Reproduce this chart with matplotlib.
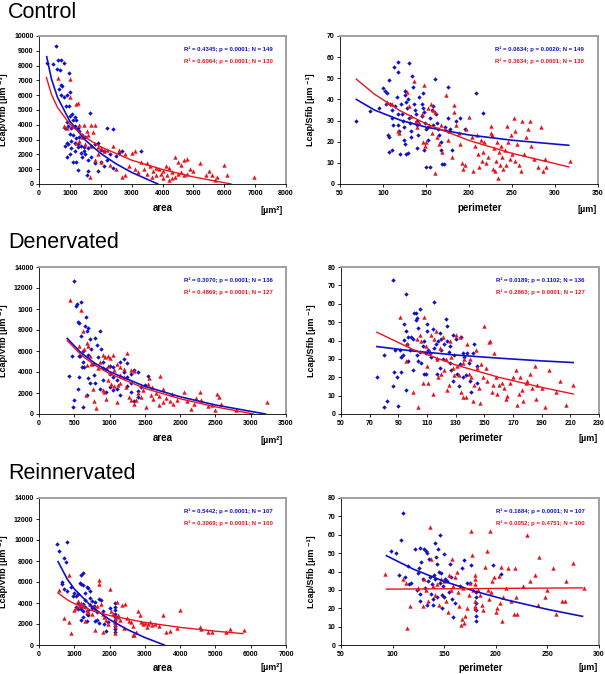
import matplotlib
matplotlib.use("Agg")
import matplotlib.pyplot as plt
import numpy as np

plt.rcParams['font.family'] = ['Liberation Sans', 'DejaVu Sans']

BLUE = '#1010c8'
RED = '#e8141e'

# ---------------- Control ----------------
ctrl_area_blue_x = [270, 560, 450, 620, 720, 820, 580, 680, 980, 720, 760, 650, 720, 800, 900, 960, 1020, 880,
                    1060, 1000, 1150, 1200, 1100, 900, 950, 850, 1050, 1150, 1250, 1300, 1000, 1100, 1200, 1300,
                    1400, 1500, 900, 950, 1050, 1150, 1250, 1350, 1450, 1600, 1700, 1800, 1650, 1900, 2000, 2200,
                    2400, 2100, 2300, 2500, 2700, 3300, 900, 1000, 1100, 1200, 1250, 1400, 1500, 1600, 1700, 1800,
                    2000, 2100, 2200, 1550, 1600, 1900, 2400, 2600, 1350, 1450, 1050, 1150, 850, 1250]
ctrl_area_blue_y = [8150, 9300, 8100, 8350, 8400, 8150, 7800, 7700, 7500, 6700, 6600, 6400, 6000, 5900, 6000, 5300,
                    6200, 5300, 4700, 4600, 4500, 4300, 4300, 4200, 3900, 3800, 3800, 3900, 3800, 3600, 3400, 3300,
                    3100, 3200, 3300, 3200, 2800, 2700, 2900, 2800, 2700, 2600, 2500, 2400, 2600, 2700, 4800, 2800,
                    2300, 3800, 3700, 2200, 2000, 1900, 2200, 2200, 1800, 2000, 1500, 1500, 950, 1800, 2000, 1600,
                    1800, 1400, 1500, 1200, 1600, 600, 900, 900, 1100, 2100, 2100, 2200, 2400, 2200, 2600, 2500]
ctrl_area_red_x = [600, 1000, 1000, 1250, 1200, 800, 900, 1100, 1300, 1450, 1700, 1800, 1750, 1600, 1400, 1300,
                   1500, 1700, 1900, 2000, 2100, 1900, 1800, 2000, 2200, 2400, 2600, 2800, 3000, 3100, 3300, 3500,
                   2900, 3100, 2800, 2700, 3200, 3400, 3500, 3600, 3700, 3800, 3900, 4000, 4100, 4200, 4300, 4400,
                   4500, 4600, 4700, 4800, 4900, 4150, 4200, 4300, 4000, 3950, 4500, 4600, 4700, 4800, 5000, 5200,
                   5400, 5500, 5600, 5700, 5750, 6000, 6100, 6950, 4400, 3800, 3650, 1650, 2300, 2500, 1550, 1200]
ctrl_area_red_y = [7150, 7100, 5900, 5500, 5400, 3900, 3800, 3900, 4000, 4000, 4000, 4000, 3500, 3300, 3200, 2900,
                   2700, 2600, 2500, 2400, 2200, 2000, 1600, 1500, 2300, 2600, 2300, 2000, 2100, 2200, 1500, 1400,
                   1200, 1000, 600, 500, 800, 1000, 700, 1200, 900, 1100, 1000, 900, 1200, 1100, 800, 1800, 1500,
                   1300, 1600, 1700, 1000, 600, 300, 400, 400, 700, 700, 800, 600, 700, 900, 1400, 600, 900, 600,
                   300, 500, 1300, 600, 500, 500, 600, 500, 500, 1300, 1000, 3600, 2800]
ctrl_area_fit_blue_x = [250, 400, 600, 1000, 1500, 2000, 2500, 3000, 3850]
ctrl_area_fit_blue_y = [8600, 7120, 5850, 4240, 2965, 2060, 1360, 785, 0]
ctrl_area_fit_red_x = [240, 400, 600, 1000, 1500, 2000, 3000, 4000, 5000, 6220]
ctrl_area_fit_red_y = [7200, 6070, 5170, 4040, 3150, 2510, 1610, 980, 480, 0]

ctrl_per_blue_x = [69, 85, 95, 100, 102, 105, 107, 108, 110, 111, 112, 106, 107, 107, 110, 113, 117, 117, 116, 118,
                   119, 120, 121, 122, 123, 124, 125, 126, 127, 128, 129, 130, 130, 131, 132, 133, 127, 129, 125,
                   124, 134, 135, 136, 137, 138, 139, 140, 141, 140, 142, 145, 146, 148, 149, 150, 147, 148, 150,
                   155, 152, 155, 157, 158, 160, 162, 164, 165, 167, 168, 169, 171, 172, 175, 176, 178, 180, 185,
                   190, 195, 208, 216, 145, 152, 118, 114, 103, 158, 163]
ctrl_per_blue_y = [30, 34.5, 36, 45.5, 44, 43, 49, 38, 35, 31, 28, 23, 22, 15, 16, 55.5, 57.5, 53, 41, 28, 25, 14,
                   38, 33, 30, 27, 44, 42, 39, 36, 40, 57, 31, 29, 25, 22, 14, 14.5, 19, 21, 51, 46, 38, 35, 33,
                   30, 28, 23, 17, 41, 38, 36, 34, 29, 26, 43, 16, 8, 8, 21, 31, 35, 28, 49.5, 33, 26, 23, 20, 16,
                   9.5, 9.5, 27, 46, 31, 26, 16, 30, 31, 26, 43, 33.5, 32, 27, 33, 37, 38, 37, 29]
ctrl_per_red_x = [105, 110, 117, 119, 128, 130, 132, 136, 138, 140, 142, 145, 147, 148, 149, 150, 152, 154, 156,
                  157, 158, 160, 161, 163, 165, 167, 169, 172, 173, 175, 177, 180, 182, 183, 185, 188, 190, 192,
                  193, 195, 197, 200, 203, 205, 207, 209, 210, 212, 214, 216, 218, 220, 222, 225, 226, 228, 229,
                  230, 231, 232, 234, 235, 236, 237, 238, 240, 242, 244, 245, 248, 250, 252, 253, 254, 256, 258,
                  260, 262, 264, 266, 269, 271, 272, 276, 280, 284, 286, 288, 290, 317, 249, 243, 227, 215]
ctrl_per_red_y = [39, 38, 25, 24, 43.5, 37, 32, 48.5, 30, 27, 29, 33, 20, 47, 18, 20, 36, 28, 38, 24, 35, 5, 34,
                  22, 19, 28, 15, 26, 42, 21, 25, 13, 37.5, 34, 28, 24, 19, 10, 7, 9, 26, 31.5, 22, 6, 18, 23, 14,
                  8, 21, 15, 20, 10, 13, 24, 27.5, 7, 17, 6, 11, 20, 3, 15, 9, 18, 13, 7, 16, 27.5, 20, 12, 14, 31,
                  25, 11, 19, 9, 6, 30, 14, 22, 26, 30, 18, 12, 8, 27, 6, 12, 8, 11, 23, 9, 23, 11]
ctrl_per_fit_blue_x = [69, 90, 120, 150, 200, 250, 316]
ctrl_per_fit_blue_y = [40, 35.0, 30.2, 26.9, 23.2, 20.7, 18.3]
ctrl_per_fit_red_x = [69, 90, 120, 150, 200, 250, 316]
ctrl_per_fit_red_y = [49.6, 42.5, 34.6, 28.5, 20.6, 14.5, 8.1]

# ---------------- Denervated ----------------
den_area_blue_x = [420, 470, 490, 500, 480, 520, 540, 560, 550, 560, 580, 560, 550, 600, 600, 620, 620, 640, 610,
                   660, 650, 680, 700, 720, 700, 700, 720, 740, 760, 800, 820, 860, 880, 900, 840, 780, 800, 860,
                   900, 950, 1000, 1050, 1000, 1050, 1100, 1150, 1200, 1250, 1300, 1350, 1400, 1450, 1500, 1550,
                   1200, 1250, 1050, 1100, 1150, 1300, 1400, 1350, 1000, 900, 950, 620, 680, 1250, 1300, 1400]
den_area_blue_y = [3600, 5500, 12700, 1300, 700, 10300, 10500, 8700, 8750, 5500, 5500, 3500, 2400, 10700, 7400,
                   6000, 5000, 4500, 4500, 9200, 8400, 7900, 8200, 7100, 5600, 3400, 3000, 6200, 4800, 7200, 6600,
                   7900, 6200, 5000, 5400, 3700, 3000, 2400, 4400, 4300, 4600, 4500, 3800, 3500, 3200, 5000, 4000,
                   3500, 3000, 4200, 4000, 2600, 2800, 3600, 5200, 4900, 2300, 2400, 1800, 2100, 1600, 1200, 2600,
                   3200, 2100, 700, 1800, 2700, 3800, 2200]
den_area_red_x = [440, 600, 630, 560, 640, 680, 700, 720, 680, 740, 660, 780, 810, 760, 860, 900, 940, 980, 1000,
                  1050, 1100, 1150, 1200, 1250, 1300, 1350, 900, 920, 950, 980, 1020, 1060, 1100, 1120, 1150, 1200,
                  1230, 1280, 1310, 1350, 1380, 1400, 1450, 1480, 1520, 1540, 1560, 1600, 1620, 1660, 1700, 1720,
                  1750, 1760, 1800, 1850, 1880, 1900, 1950, 2050, 2100, 2160, 2200, 2230, 2280, 2300, 2400, 2450,
                  2500, 2520, 2550, 2580, 2790, 3230, 1000, 1060, 980, 840, 1580, 1700, 1150]
den_area_red_y = [10900, 9900, 7900, 6500, 6200, 6800, 6500, 5500, 4700, 4800, 1800, 1200, 600, 2400, 5000, 5600,
                  5400, 5500, 5300, 5600, 4800, 4500, 4300, 5800, 4200, 4100, 2300, 2100, 1400, 3200, 2900, 2700,
                  1100, 2800, 3000, 3500, 2600, 1600, 1300, 1000, 1300, 2000, 1600, 2300, 700, 2900, 3400, 2600,
                  1400, 2000, 1700, 3600, 2400, 1100, 1500, 1200, 1900, 1000, 1300, 2100, 1200, 500, 1000, 1500,
                  2100, 1300, 800, 900, 400, 1900, 1600, 1000, 400, 1100, 3900, 4200, 4600, 4400, 1800, 900, 3700]
den_area_fit_blue_x = [400, 600, 800, 1000, 1500, 2000, 2500, 3210]
den_area_fit_blue_y = [7200, 5800, 4800, 4030, 2630, 1640, 860, 0]
den_area_fit_red_x = [400, 600, 800, 1000, 1500, 2000, 2500, 3040]
den_area_fit_red_y = [7000, 5600, 4610, 3840, 2440, 1450, 680, 0]

den_per_blue_x = [75, 80, 80, 82, 86, 86, 87, 88, 89, 90, 91, 92, 93, 94, 94, 95, 95, 95, 96, 97, 98, 99, 100, 100,
                  101, 102, 102, 103, 103, 104, 104, 105, 105, 106, 107, 108, 108, 109, 110, 110, 111, 112, 113,
                  114, 115, 115, 116, 117, 117, 118, 119, 120, 120, 121, 122, 123, 124, 124, 125, 126, 126, 127,
                  128, 128, 129, 130, 131, 132, 133, 134, 135, 135, 136, 137, 138, 139, 140, 141, 142, 143, 145,
                  145, 109, 119, 97, 92]
den_per_blue_y = [20, 4, 32, 7, 73, 15, 23, 35, 20, 4.5, 35, 31, 32, 40.5, 49, 45, 13, 65.5, 38, 29, 35, 42, 41, 24,
                  55, 55, 51, 52, 32, 47, 29, 57, 34, 28, 37, 40, 22, 33, 49, 45, 35, 33, 31, 46, 61, 36, 38, 30,
                  22, 40, 25, 41, 35, 30, 38, 51.5, 48, 40, 34, 37, 28, 24, 43, 18, 32, 41, 22, 15, 27, 42, 33, 20,
                  31, 21, 33, 28, 18, 12, 33, 38, 26, 17, 22, 44, 42, 23]
den_per_red_x = [91, 95, 96, 100, 103, 104, 105, 106, 107, 108, 109, 110, 111, 112, 113, 114, 115, 116, 117, 118,
                 119, 120, 121, 122, 123, 124, 125, 126, 127, 128, 129, 130, 131, 132, 133, 134, 135, 136, 137,
                 138, 139, 140, 141, 142, 143, 144, 145, 146, 147, 148, 149, 150, 151, 152, 153, 154, 155, 156,
                 157, 158, 159, 160, 162, 164, 166, 168, 170, 172, 173, 175, 176, 177, 179, 180, 182, 183, 185,
                 186, 187, 190, 192, 195, 200, 203, 207, 212, 174, 165, 135]
den_per_red_y = [53, 29, 38, 12, 41, 4, 43, 40, 17, 53, 37, 26, 17, 34, 43, 11, 41, 45, 30, 20, 36, 22, 42, 24, 30,
                 13, 16, 40, 31, 25, 21, 43, 26, 21, 42, 12, 28, 30, 9, 38, 22, 30, 20, 7, 16, 35, 25, 14, 6, 27,
                 20, 48, 25, 18, 39, 40, 12, 16, 33, 20, 11, 16, 17, 14, 10, 17, 20, 24, 5, 20, 13, 7, 17, 18, 22,
                 14, 26, 8, 16, 14, 4, 24, 12, 18, 5, 16, 11, 8, 9]
den_per_fit_blue_x = [75, 100, 130, 160, 190, 212]
den_per_fit_blue_y = [36.7, 34.3, 32.1, 30.4, 28.9, 28.0]
den_per_fit_red_x = [75, 100, 130, 160, 190, 212]
den_per_fit_red_y = [44.5, 35.2, 26.7, 20.0, 14.5, 10.9]

# ---------------- Reinnervated ----------------
rein_area_blue_x = [520, 560, 700, 800, 760, 650, 640, 720, 800, 900, 950, 1000, 1050, 1100, 1100, 1150, 1200,
                    1250, 1200, 1250, 1300, 1350, 1400, 1450, 1150, 1200, 1250, 1300, 1350, 1400, 1450, 1500, 1550,
                    1600, 1650, 1700, 1750, 1800, 1600, 1650, 1700, 1850, 1900, 1950, 2000, 1200, 1250, 1350,
                    1100, 1050, 2150, 2150, 2150, 2150, 2150, 2150, 2150, 2150, 2150, 2150, 1500, 1400, 1300,
                    1250, 1450]
rein_area_blue_y = [9600, 9000, 8300, 9800, 7900, 6000, 5800, 5300, 5100, 5500, 4700, 5000, 4700, 4900, 4000,
                    5900, 6700, 6900, 5800, 5700, 5000, 5500, 5400, 5100, 3700, 3400, 3200, 3600, 3000, 2900, 3800,
                    3500, 3700, 4100, 3100, 4400, 4300, 3200, 2300, 2400, 2100, 2000, 1300, 2200, 3500, 2400, 2700,
                    2300, 3400, 3600, 4000, 3600, 3300, 3000, 2700, 2400, 2100, 1800, 1500, 1200, 4200, 3300, 4300,
                    3900, 4500]
rein_area_red_x = [560, 700, 850, 850, 920, 1000, 1050, 1100, 1150, 1200, 1250, 1300, 1350, 1400, 1450, 1500,
                   1550, 1600, 1650, 1700, 1700, 1750, 1800, 1850, 1900, 1950, 2000, 2050, 2100, 2150, 2150, 2150,
                   2150, 2200, 2250, 2300, 2350, 2400, 2450, 2500, 2550, 2600, 2650, 2700, 2750, 2800, 2850, 2900,
                   2950, 3000, 3100, 3150, 3200, 3300, 3400, 3500, 3600, 3700, 3900, 4000, 4550, 4600, 4800, 4900,
                   5300, 5400, 5800, 2650, 1600, 1800, 3050, 2250]
rein_area_red_y = [5200, 2600, 2200, 6700, 1100, 3300, 3500, 4200, 3800, 4000, 3700, 2300, 3300, 3100, 3900, 3000,
                   3600, 3400, 3700, 5800, 6200, 3900, 3000, 2700, 2400, 2000, 5300, 3200, 3000, 2500, 2200, 1800,
                   1100, 4100, 2700, 2400, 3800, 1600, 3900, 2600, 2300, 2200, 1800, 1000, 1200, 3200, 2900, 2200,
                   2000, 2100, 2000, 2200, 1900, 2000, 1800, 2900, 1200, 1300, 1600, 3300, 1700, 1500, 1200, 1200,
                   1200, 1500, 1400, 1000, 1400, 1200, 1700, 2900]
rein_area_fit_blue_x = [540, 800, 1000, 1500, 2000, 2500, 3000, 3550]
rein_area_fit_blue_y = [7940, 6280, 5340, 3630, 2420, 1480, 710, 0]
rein_area_fit_red_x = [540, 800, 1000, 1500, 2000, 3000, 4000, 5000, 5776]
rein_area_fit_red_y = [4950, 4310, 3940, 3280, 2810, 2150, 1680, 1320, 1080]

rein_per_blue_x = [98, 103, 106, 108, 110, 112, 115, 116, 118, 122, 124, 125, 126, 127, 127, 128, 129, 130, 131,
                   132, 133, 133, 134, 135, 136, 137, 138, 139, 140, 141, 141, 142, 143, 143, 144, 145, 146, 146,
                   147, 148, 149, 150, 150, 151, 153, 155, 156, 157, 158, 159, 160, 165, 167, 169, 172, 175, 176,
                   181, 181, 181, 181, 181, 181, 197, 205, 148, 139, 127]
rein_per_blue_y = [51, 50, 38, 57, 72, 37, 43, 33, 34, 52.5, 30, 39, 42, 53, 24, 45, 36, 52.5, 31, 51, 50, 22, 35,
                   47, 37, 28, 33, 25, 38, 36, 55.5, 48, 44, 26, 52, 40, 60, 34, 39, 27, 32, 49.5, 26, 36, 35, 29,
                   44, 37, 25, 15, 23, 32, 42, 46, 34, 34, 43.5, 29, 26, 23, 19, 16, 13, 43.5, 38.5, 20, 21.5, 28]
rein_per_red_x = [93, 110, 113, 114, 117, 125, 129, 130, 132, 134, 136, 137, 139, 141, 143, 145, 147, 150, 152,
                  154, 155, 157, 158, 160, 162, 164, 166, 167, 168, 169, 170, 172, 174, 175, 176, 177, 178, 180,
                  180, 180, 180, 180, 180, 183, 185, 187, 188, 190, 191, 192, 193, 194, 195, 196, 198, 200, 201,
                  203, 204, 205, 206, 207, 210, 212, 215, 218, 219, 220, 221, 226, 230, 233, 238, 241, 242, 248,
                  250, 255, 258, 264, 267, 268, 275, 285, 159, 163]
rein_per_red_y = [38.5, 36, 34, 9, 21, 31, 21, 36, 30, 24, 64, 47, 32, 27, 33, 22, 36, 35, 24, 18, 38, 30, 47, 37,
                  40, 21, 11, 14, 31, 12, 16, 20, 27, 34, 62, 49, 30, 38, 36, 33, 24, 21, 20, 30, 27, 22, 19, 42.5,
                  51, 30, 25, 62, 29, 35, 37, 18, 20, 37.5, 23, 42.5, 13, 26, 31, 42, 24, 17, 42, 26, 17, 32, 60,
                  35, 38, 22, 48, 26, 30, 42, 17, 24, 24, 35, 44.5, 31, 32, 29]
rein_per_fit_blue_x = [94, 120, 150, 180, 210, 250, 284]
rein_per_fit_blue_y = [48.6, 41.3, 34.6, 29.2, 24.6, 19.4, 15.6]
rein_per_fit_red_x = [94, 190, 284]
rein_per_fit_red_y = [30.4, 30.75, 31.1]

ctrl_stats = ["R² = 0.4345; p = 0.0001; N = 149", "R² = 0.6064; p = 0.0001; N = 130",
              "R² = 0.0634; p = 0.0020; N = 149", "R² = 0.3634; p = 0.0001; N = 130"]
den_stats = ["R² = 0.3070; p = 0.0001; N = 136", "R² = 0.4869; p = 0.0001; N = 127",
             "R² = 0.0189; p = 0.1102; N = 136", "R² = 0.2863; p = 0.0001; N = 127"]
rein_stats = ["R² = 0.5442; p = 0.0001; N = 107", "R² = 0.3069; p = 0.0001; N = 100",
              "R² = 0.1684; p = 0.0001; N = 107", "R² = 0.0052; p = 0.4751; N = 100"]

W, H = 605, 674
fig = plt.figure(figsize=(W / 100, H / 100), dpi=100)


def add_ax(left, top, right, bottom):
    return fig.add_axes([left / W, 1 - bottom / H, (right - left) / W, (bottom - top) / H])


def panel(ax, bx, by, rx, ry, fbx, fby, frx, fry, stats, xlim, xticks, ylim, yticks,
          yticklabels, ylabel, xlabel, unit, ylab_x, xlab_pos, unit_pos):
    ax.scatter(bx, by, marker='D', s=5, color=BLUE, linewidths=0, zorder=3)
    ax.scatter(rx, ry, marker='^', s=10, color=RED, linewidths=0, zorder=3)
    ax.plot(fbx, fby, color=BLUE, lw=1.2, zorder=4)
    ax.plot(frx, fry, color=RED, lw=1.0, zorder=4)
    ax.set_xlim(xlim)
    ax.set_ylim(ylim)
    ax.set_xticks(xticks)
    ax.set_yticks(yticks)
    ax.set_yticklabels(yticklabels)
    ax.tick_params(direction='out', length=2.5, width=0.6, labelsize=5, pad=1.5)
    for lab in ax.get_xticklabels() + ax.get_yticklabels():
        lab.set_fontweight('bold')
    for side in ['top', 'right']:
        ax.spines[side].set_color('#a0a0a0')
        ax.spines[side].set_linewidth(1.4)
    for side in ['left', 'bottom']:
        ax.spines[side].set_color('black')
        ax.spines[side].set_linewidth(0.6)
    ax.set_ylabel(ylabel, fontsize=6.5, fontweight='bold')
    ax.yaxis.set_label_coords(ylab_x, 0.5)
    ax.set_xlabel(xlabel, fontsize=7, fontweight='bold')
    ax.xaxis.set_label_coords(*xlab_pos)
    ax.text(unit_pos[0], unit_pos[1], unit, transform=ax.transAxes, fontsize=6.5,
            fontweight='bold', ha='center', va='center')
    ax.text(0.945, 0.91, stats[0], transform=ax.transAxes, fontsize=4.3, fontweight='bold',
            color=BLUE, ha='right', va='center')
    ax.text(0.945, 0.83, stats[1], transform=ax.transAxes, fontsize=4.3, fontweight='bold',
            color=RED, ha='right', va='center')


ylab_area = "Lcap/Vfib [µm ⁻³]"
ylab_per = "Lcap/Sfib [µm ⁻¹]"

# row 1
ax = add_ax(39, 36, 286, 184)
panel(ax, ctrl_area_blue_x, ctrl_area_blue_y, ctrl_area_red_x, ctrl_area_red_y,
      ctrl_area_fit_blue_x, ctrl_area_fit_blue_y, ctrl_area_fit_red_x, ctrl_area_fit_red_y,
      ctrl_stats[:2], (0, 8000), range(0, 8001, 1000), (0, 10000), range(0, 10001, 1000),
      [str(v) for v in range(0, 10001, 1000)], ylab_area, "area", "[µm²]",
      -0.125, (0.5, -0.13), (0.943, -0.18))
ax = add_ax(340, 36, 598, 184)
panel(ax, ctrl_per_blue_x, ctrl_per_blue_y, ctrl_per_red_x, ctrl_per_red_y,
      ctrl_per_fit_blue_x, ctrl_per_fit_blue_y, ctrl_per_fit_red_x, ctrl_per_fit_red_y,
      ctrl_stats[2:], (50, 350), range(50, 351, 50), (0, 70), range(0, 71, 10),
      [str(v) for v in range(0, 71, 10)], ylab_per, "perimeter", "[µm]",
      -0.097, (0.54, -0.13), (0.957, -0.17))

# row 2
den_area_yticks = list(range(0, 14001, 2000))
den_area_ylabels = ["0", "2000", "4000", "6000", "8000", "1000", "12000", "14000"]
ax = add_ax(39, 267, 286, 414)
panel(ax, den_area_blue_x, den_area_blue_y, den_area_red_x, den_area_red_y,
      den_area_fit_blue_x, den_area_fit_blue_y, den_area_fit_red_x, den_area_fit_red_y,
      den_stats[:2], (0, 3500), range(0, 3501, 500), (0, 14000), den_area_yticks,
      den_area_ylabels, ylab_area, "area", "[µm²]",
      -0.125, (0.5, -0.13), (0.943, -0.18))
ax = add_ax(341, 267, 599, 414)
panel(ax, den_per_blue_x, den_per_blue_y, den_per_red_x, den_per_red_y,
      den_per_fit_blue_x, den_per_fit_blue_y, den_per_fit_red_x, den_per_fit_red_y,
      den_stats[2:], (50, 230), range(50, 231, 20), (0, 80), range(0, 81, 10),
      [str(v) for v in range(0, 81, 10)], ylab_per, "perimeter", "[µm]",
      -0.097, (0.54, -0.13), (0.957, -0.17))

# row 3
ax = add_ax(39, 498, 286, 645)
panel(ax, rein_area_blue_x, rein_area_blue_y, rein_area_red_x, rein_area_red_y,
      rein_area_fit_blue_x, rein_area_fit_blue_y, rein_area_fit_red_x, rein_area_fit_red_y,
      rein_stats[:2], (0, 7000), range(0, 7001, 1000), (0, 14000), range(0, 14001, 2000),
      [str(v) for v in range(0, 14001, 2000)], ylab_area, "area", "[µm²]",
      -0.125, (0.5, -0.12), (0.943, -0.155))
ax = add_ax(341, 498, 599, 645)
panel(ax, rein_per_blue_x, rein_per_blue_y, rein_per_red_x, rein_per_red_y,
      rein_per_fit_blue_x, rein_per_fit_blue_y, rein_per_fit_red_x, rein_per_fit_red_y,
      rein_stats[2:], (50, 300), range(50, 301, 50), (0, 80), range(0, 81, 10),
      [str(v) for v in range(0, 81, 10)], ylab_per, "perimeter", "[µm]",
      -0.097, (0.54, -0.12), (0.957, -0.155))

# row titles
fig.text(8 / W, 1 - 18 / H, "Control", fontsize=15.5, va='baseline')
fig.text(8 / W, 1 - 248 / H, "Denervated", fontsize=15.5, va='baseline')
fig.text(8 / W, 1 - 479 / H, "Reinnervated", fontsize=15.5, va='baseline')

fig.savefig("out.png", dpi=100)
